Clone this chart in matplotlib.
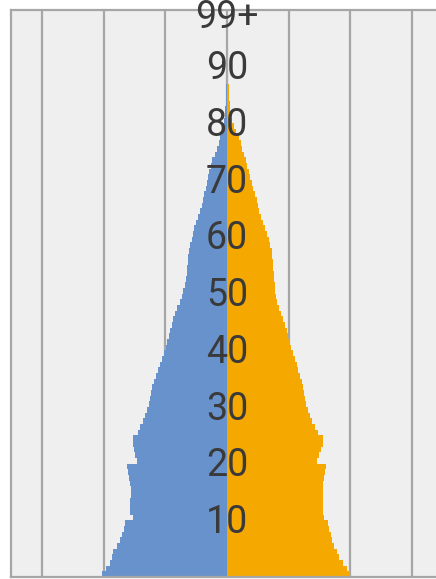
"""Population pyramid by single year of age."""

import matplotlib

matplotlib.use("Agg")
import matplotlib.pyplot as plt
import matplotlib.transforms as mtransforms
import numpy as np

ages = [str(a) for a in range(99)] + ["99+"]
age_labels = ["10", "20", "30", "40", "50", "60", "70", "80", "90", "99+"]

# share of total population (%), ages 0 .. 99+
male_pct = [
    1.016, 0.984, 0.951, 0.935, 0.927, 0.894, 0.870, 0.854, 0.837, 0.829,
    0.764, 0.789, 0.789, 0.789, 0.780, 0.780, 0.789, 0.797, 0.805, 0.813,
    0.732, 0.748, 0.756, 0.764, 0.764, 0.724, 0.707, 0.683, 0.667, 0.650,
    0.634, 0.626, 0.618, 0.610, 0.593, 0.577, 0.561, 0.545, 0.528, 0.512,
    0.496, 0.488, 0.472, 0.463, 0.447, 0.439, 0.423, 0.407, 0.382, 0.366,
    0.358, 0.341, 0.333, 0.325, 0.325, 0.317, 0.317, 0.309, 0.301, 0.285,
    0.276, 0.268, 0.252, 0.236, 0.220, 0.203, 0.195, 0.187, 0.171, 0.163,
    0.154, 0.146, 0.130, 0.122, 0.098, 0.081, 0.065, 0.057, 0.041, 0.033,
    0.024, 0.020, 0.016, 0.012, 0.008, 0.006, 0.005, 0.004, 0.003, 0.002,
    0.002, 0.001, 0.001, 0.001, 0.001, 0.000, 0.000, 0.000, 0.000, 0.000,
]
female_pct = [
    1.000, 0.976, 0.943, 0.911, 0.894, 0.870, 0.854, 0.846, 0.829, 0.821,
    0.789, 0.780, 0.780, 0.780, 0.780, 0.780, 0.780, 0.789, 0.797, 0.805,
    0.732, 0.748, 0.764, 0.780, 0.780, 0.740, 0.715, 0.691, 0.675, 0.659,
    0.642, 0.634, 0.626, 0.618, 0.610, 0.593, 0.577, 0.569, 0.553, 0.537,
    0.520, 0.512, 0.496, 0.488, 0.472, 0.455, 0.439, 0.423, 0.407, 0.398,
    0.390, 0.390, 0.382, 0.382, 0.374, 0.374, 0.366, 0.366, 0.350, 0.341,
    0.325, 0.309, 0.293, 0.276, 0.260, 0.252, 0.244, 0.228, 0.211, 0.203,
    0.187, 0.179, 0.163, 0.154, 0.138, 0.122, 0.114, 0.098, 0.073, 0.057,
    0.041, 0.033, 0.028, 0.024, 0.020, 0.016, 0.015, 0.012, 0.010, 0.008,
    0.007, 0.005, 0.004, 0.003, 0.002, 0.002, 0.001, 0.001, 0.001, 0.001,
]

MALE_COLOR = "#6892CC"
FEMALE_COLOR = "#F5A800"
GRID_COLOR = "#A6A6A6"

fig = plt.figure(figsize=(4.36, 5.79), dpi=100)
ax = fig.add_axes([11 / 436, 2 / 579, 432 / 436, 567 / 579])
ax.set_facecolor("#EFEFEF")

y = np.arange(len(ages))
ax.barh(y, -np.array(male_pct), height=1.0, color=MALE_COLOR, linewidth=0, zorder=2)
ax.barh(y, female_pct, height=1.0, color=FEMALE_COLOR, linewidth=0, zorder=2)

ax.set_xlim(-1.756, 1.756)
ax.set_ylim(-0.5, len(ages) - 0.5)
ax.set_xticks(np.arange(-1.5, 1.51, 0.5))
ax.set_yticks([])
ax.tick_params(axis="x", length=0, labelbottom=False)
ax.grid(axis="x", color=GRID_COLOR, linewidth=1.6, zorder=1)
ax.set_axisbelow(True)
for spine in ax.spines.values():
    spine.set_color(GRID_COLOR)
    spine.set_linewidth(1.6)

# category labels sit on the centre line, a little below their bar
label_trans = mtransforms.offset_copy(ax.transData, fig=fig, y=-5, units="dots")
for label in age_labels:
    ax.text(0, ages.index(label), label, ha="center", va="center",
            fontsize=27, family="Roboto", color="#3A3A3A", zorder=3,
            transform=label_trans)

fig.savefig("out.png", dpi=100)
